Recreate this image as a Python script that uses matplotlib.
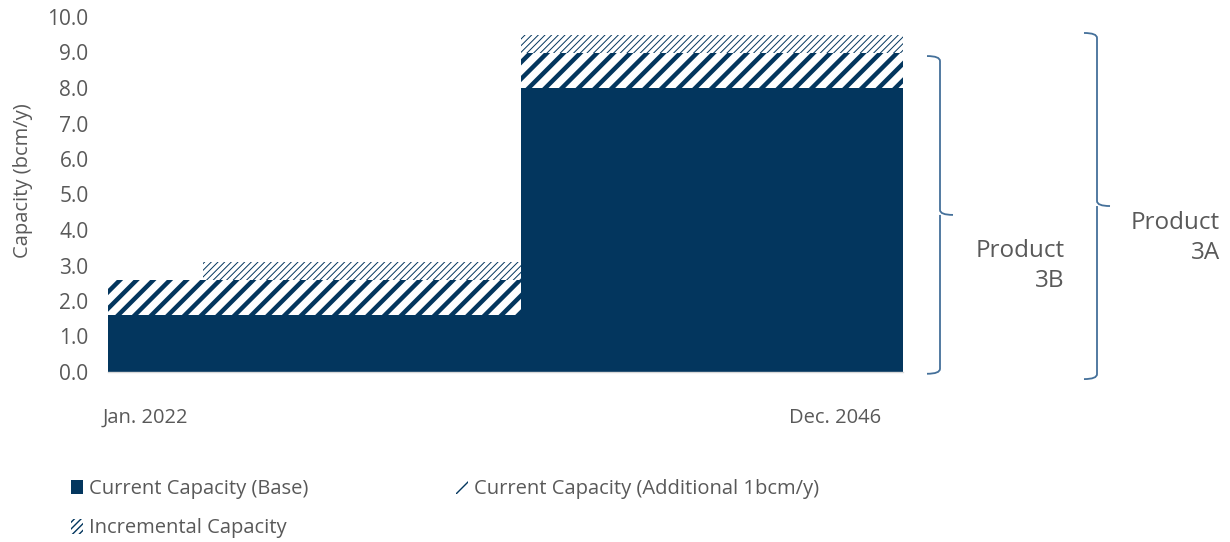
import matplotlib
matplotlib.use("Agg")
import matplotlib.pyplot as plt
from matplotlib.patches import Patch, PathPatch
from matplotlib.path import Path
from matplotlib.transforms import blended_transform_factory

# ---- data ----
step_years = [2022.0, 2025.0, 2035.0, 2047.0]      # step boundaries (Jan 2022 .. end of Dec 2046)
base_capacity = [1.6, 1.6, 8.0, 8.0]
additional_capacity = [1.0, 1.0, 1.0, 1.0]
incremental_capacity = [0.0, 0.5, 0.5, 0.5]
series_names = ["Current Capacity (Base)", "Current Capacity (Additional 1bcm/y)", "Incremental Capacity"]
x_labels = ["Jan. 2022", "Dec. 2046"]
y_ticks = [0, 1, 2, 3, 4, 5, 6, 7, 8, 9, 10]
brace_labels = ["Product\n3B", "Product\n3A"]

NAVY = "#03365e"
GRAY = "#595959"
BRACE = "#44709a"

fig = plt.figure(figsize=(12.3, 5.42), dpi=100)
W, H = 1230, 542
ax = fig.add_axes([108 / W, 1 - 372 / H, (903 - 108) / W, (372 - 17) / H])

lower2 = [b + a for b, a in zip(base_capacity, additional_capacity)]
upper3 = [l + i for l, i in zip(lower2, incremental_capacity)]

ax.fill_between(step_years, 0, base_capacity, step="post", facecolor=NAVY, edgecolor=NAVY, linewidth=0)
with plt.rc_context({"hatch.linewidth": 3.2}):
    ax.fill_between(step_years, base_capacity, lower2, step="post", facecolor="white",
                    edgecolor=NAVY, linewidth=0, hatch="//")
with plt.rc_context({"hatch.linewidth": 0.7}):
    ax.fill_between(step_years, lower2, upper3, step="post", facecolor="white",
                    edgecolor=NAVY, linewidth=0, hatch="/////")

ax.set_xlim(step_years[0], step_years[-1])
ax.set_ylim(0, 10)
ax.set_yticks(y_ticks)
ax.set_yticklabels([f"{v:.1f}" for v in y_ticks], family="Open Sans", fontsize=15, color=GRAY)
ax.tick_params(axis="y", length=0, pad=14)
ax.set_xticks([])
for s in ["top", "right", "left"]:
    ax.spines[s].set_visible(False)
ax.spines["bottom"].set_color("#d9d9d9")
ax.spines["bottom"].set_linewidth(1.0)

ax.set_ylabel("Capacity (bcm/y)", family="Open Sans", fontsize=14.5, color=GRAY)
ax.yaxis.set_label_coords((33 - 108) / 795, (372 - 181) / 355)

narrow = ["Open Sans", "DejaVu Sans"]
ax.text(103 / W, 1 - 418 / H, x_labels[0], transform=fig.transFigure, ha="left", va="center",
        family=narrow, fontsize=14.5, color=GRAY)
ax.text(881 / W, 1 - 418 / H, x_labels[1], transform=fig.transFigure, ha="right", va="center",
        family=narrow, fontsize=14.5, color=GRAY)

# ---- braces ----
bt = blended_transform_factory(fig.transFigure, ax.transData)

def brace(xv_px, top, bottom, tip_px, arm_px):
    xv = xv_px / W
    xa = (xv_px - arm_px) / W
    xt = (xv_px + tip_px) / W
    mid = (top + bottom) / 2
    r = 0.14
    verts = [(xa, top), (xv, top), (xv, top - r),
             (xv, mid + r), (xv, mid), (xt, mid),
             (xv, mid), (xv, mid - r),
             (xv, bottom + r), (xv, bottom), (xa, bottom)]
    codes = [Path.MOVETO, Path.CURVE3, Path.CURVE3,
             Path.LINETO, Path.CURVE3, Path.CURVE3,
             Path.MOVETO, Path.CURVE3,
             Path.LINETO, Path.CURVE3, Path.CURVE3]
    p = PathPatch(Path(verts, codes), transform=bt, fill=False, edgecolor=BRACE, linewidth=1.3,
                  clip_on=False)
    fig.add_artist(p)

top_3b = lower2[-1]
top_3a = upper3[-1]
brace(940, top_3b - 0.1, -0.05, 13, 13)
brace(1097, top_3a + 0.05, -0.2, 13, 13)

fig.text(1065 / W, 1 - 266 / H, brace_labels[0], ha="right", va="center", family="Open Sans",
         fontsize=17.5, color=GRAY, linespacing=1.35)
fig.text(1220 / W, 1 - 238 / H, brace_labels[1], ha="right", va="center", family="Open Sans",
         fontsize=17.5, color=GRAY, linespacing=1.35)

# ---- legend ----
with plt.rc_context({"hatch.linewidth": 2.0}):
    h1 = Patch(facecolor=NAVY, edgecolor=NAVY, linewidth=0)
    h2 = Patch(facecolor="white", edgecolor=NAVY, linewidth=0, hatch="//")
with plt.rc_context({"hatch.linewidth": 0.7}):
    h3 = Patch(facecolor="white", edgecolor=NAVY, linewidth=0, hatch="/////")
leg = fig.legend([h1, h3, h2], [series_names[0], series_names[2], series_names[1]], ncol=2,
                 loc="upper left", bbox_to_anchor=(53 / W, 1 - 461 / H), frameon=False,
                 prop={"family": narrow, "size": 14.5}, labelcolor=GRAY,
                 handlelength=0.6, handleheight=0.75, handletextpad=0.3,
                 columnspacing=7.3, labelspacing=0.95)

fig.savefig("out.png", dpi=100)
